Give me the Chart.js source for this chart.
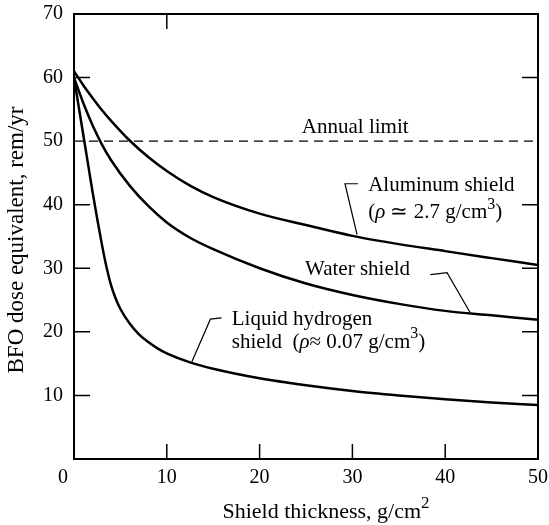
<!DOCTYPE html>
<html>
<head>
<meta charset="utf-8">
<script src="https://cdn.jsdelivr.net/npm/chart.js@4"></script>
<style>
  html, body { margin: 0; padding: 0; background: #fff; }
  #wrap { width: 549px; height: 525px; }
</style>
</head>
<body>
<div id="wrap"><canvas id="chart"></canvas></div>
<script>
// shield thickness (g/cm2) and BFO dose equivalent (rem/yr)
var alThickness = [0, 1, 2, 3, 4, 6, 8, 10, 12.5, 15, 20, 25, 30, 35, 40, 45, 50];
var alDose      = [61, 58.8, 56.8, 54.9, 53.2, 50.1, 47.5, 45.3, 43, 41.2, 38.6, 36.8, 35.1, 33.8, 32.7, 31.6, 30.5];

var waterThickness = [0, 1, 2, 3, 4, 6, 8, 10, 12.5, 15, 20, 25, 30, 35, 40, 45, 50];
var waterDose      = [60, 56, 52.5, 49.5, 47, 43, 39.8, 37.2, 34.8, 33, 30, 27.6, 25.8, 24.4, 23.3, 22.6, 21.9];

var lh2Thickness = [0, 0.5, 1, 1.5, 2, 2.5, 3, 3.5, 4, 4.5, 5, 6, 7, 8, 9, 10, 12.5, 15, 20, 25, 30, 35, 40, 45, 50];
var lh2Dose      = [60, 55.5, 51, 46.5, 42, 37.8, 33.8, 30.2, 27.3, 25.2, 23.6, 21.3, 19.6, 18.4, 17.4, 16.6, 15.2, 14.2, 12.7, 11.6, 10.7, 10, 9.4, 8.9, 8.5];

var limitThickness = [0, 50];
var limitDose      = [50, 50];

var xTicks = [0, 10, 20, 30, 40, 50];
var yTicks = [10, 20, 30, 40, 50, 60, 70];

var FONT = '"Liberation Serif", "Times New Roman", serif';

function pts(xs, ys) {
  return xs.map(function (x, i) { return { x: x, y: ys[i] }; });
}

function curve(xs, ys) {
  return {
    data: pts(xs, ys),
    showLine: true,
    borderColor: '#000',
    borderWidth: 2.5,
    pointRadius: 0,
    cubicInterpolationMode: 'monotone'
  };
}

// draws a line of text made of pieces: [text, 'i' italic | 's' superscript | '']
function rich(c, parts, x, y, size, align) {
  var total = 0;
  parts.forEach(function (p) {
    c.font = font(p[1], size);
    total += c.measureText(p[0]).width;
  });
  var cx = align === 'center' ? x - total / 2 : x;
  parts.forEach(function (p) {
    c.font = font(p[1], size);
    c.fillText(p[0], cx, p[1] === 's' ? y - size * 0.4 : y);
    cx += c.measureText(p[0]).width;
  });
}
function font(style, size) {
  if (style === 'i') return 'italic ' + size + 'px ' + FONT;
  if (style === 's') return Math.round(size * 0.75) + 'px ' + FONT;
  return size + 'px ' + FONT;
}

var decorations = {
  id: 'decorations',
  afterDraw: function (chart) {
    var c = chart.ctx, a = chart.chartArea;
    var xs = chart.scales.x, ys = chart.scales.y;
    function X(v) { return xs.getPixelForValue(v); }
    function Y(v) { return ys.getPixelForValue(v); }

    c.save();
    c.strokeStyle = '#000';
    c.fillStyle = '#000';

    // frame
    c.lineWidth = 2;
    c.strokeRect(a.left, a.top, a.right - a.left, a.bottom - a.top);

    // inward tick marks
    c.lineWidth = 1.5;
    c.beginPath();
    [10, 20, 30, 40].forEach(function (v) {
      c.moveTo(X(v), a.bottom); c.lineTo(X(v), a.bottom - 15);
    });
    c.moveTo(X(10), a.top); c.lineTo(X(10), a.top + 15);
    [10, 20, 30, 40, 60].forEach(function (v) {
      c.moveTo(a.left, Y(v)); c.lineTo(a.left + 16, Y(v));
      c.moveTo(a.right, Y(v)); c.lineTo(a.right - 16, Y(v));
    });
    c.stroke();

    // tick labels
    c.font = '20px ' + FONT;
    c.textAlign = 'center';
    c.textBaseline = 'top';
    xTicks.forEach(function (v) { c.fillText(String(v), X(v) - (v === 0 ? 11 : 0), a.bottom + 9); });
    c.textAlign = 'right';
    c.textBaseline = 'middle';
    yTicks.forEach(function (v) { c.fillText(String(v), a.left - 11, Y(v)); });
    c.textAlign = 'left';

    // leader lines
    c.lineWidth = 1.2;
    c.beginPath();
    c.moveTo(X(30.6), Y(43.3)); c.lineTo(X(29.2), Y(43.3)); c.lineTo(X(30.5), Y(35.3));
    c.moveTo(X(38.4), Y(29.0)); c.lineTo(X(40.2), Y(29.3)); c.lineTo(X(42.7), Y(23.0));
    c.moveTo(X(15.9), Y(22.2)); c.lineTo(X(14.7), Y(22.0)); c.lineTo(X(12.7), Y(15.3));
    c.stroke();

    // labels
    rich(c, [['Annual limit', '']], X(30.3), Y(52.1), 21, 'center');
    rich(c, [['Aluminum shield', '']], X(31.7), Y(43.0), 21, 'left');
    rich(c, [['(', ''], ['\u03c1', 'i'], [' \u2243 2.7 g/cm', ''], ['3', 's'], [')', '']], X(31.7), Y(38.7), 21, 'left');
    rich(c, [['Water shield', '']], X(24.9), Y(29.8), 21, 'left');
    rich(c, [['Liquid hydrogen', '']], X(17.0), Y(21.9), 21, 'left');
    rich(c, [['shield  (', ''], ['\u03c1', 'i'], ['\u2248 0.07 g/cm', ''], ['3', 's'], [')', '']], X(17.0), Y(18.3), 21, 'left');

    // axis titles
    rich(c, [['Shield thickness, g/cm', ''], ['2', 's']], 326, 512, 22, 'center');
    c.translate(17, 240);
    c.rotate(-Math.PI / 2);
    rich(c, [['BFO dose equivalent, rem/yr', '']], 0, 0, 23, 'center');
    c.restore();
  }
};

new Chart(document.getElementById('chart'), {
  type: 'scatter',
  data: {
    datasets: [
      curve(alThickness, alDose),
      curve(waterThickness, waterDose),
      curve(lh2Thickness, lh2Dose),
      {
        data: pts(limitThickness, limitDose),
        showLine: true,
        borderColor: '#000',
        borderWidth: 1.3,
        borderDash: [9, 6],
        pointRadius: 0
      }
    ]
  },
  options: {
    responsive: true,
    maintainAspectRatio: false,
    animation: false,
    layout: { padding: { top: 14, right: 11, left: 0, bottom: 0 } },
    plugins: { legend: { display: false }, tooltip: { enabled: false } },
    scales: {
      x: {
        type: 'linear',
        min: 0, max: 50,
        grid: { display: false, drawTicks: false },
        border: { display: false },
        afterBuildTicks: function (s) { s.ticks = xTicks.map(function (v) { return { value: v }; }); },
        afterFit: function (s) { s.height = 66; },
        ticks: { display: false }
      },
      y: {
        type: 'linear',
        min: 0, max: 70,
        grid: { display: false, drawTicks: false },
        border: { display: false },
        afterBuildTicks: function (s) { s.ticks = yTicks.map(function (v) { return { value: v }; }); },
        afterFit: function (s) { s.width = 74; },
        ticks: { display: false }
      }
    }
  },
  plugins: [decorations]
});
</script>
</body>
</html>
